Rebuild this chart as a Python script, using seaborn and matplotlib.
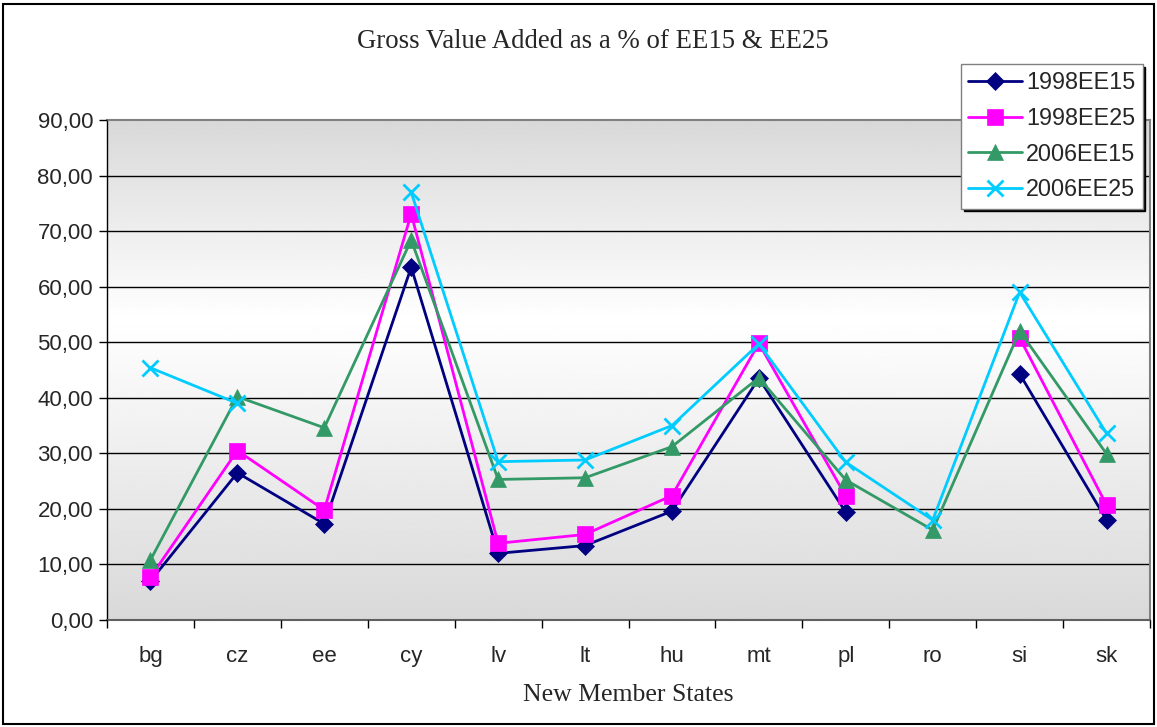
import numpy as np
import pandas as pd
import matplotlib
matplotlib.use("Agg")
import matplotlib.pyplot as plt
from matplotlib.lines import Line2D
from matplotlib.patches import Rectangle
import seaborn as sns

categories = ["bg", "cz", "ee", "cy", "lv", "lt", "hu", "mt", "pl", "ro", "si", "sk"]
s1998EE15 = [7.0, 26.5, 17.3, 63.5, 12.0, 13.4, 19.6, 43.5, 19.4, np.nan, 44.3, 18.0]
s1998EE25 = [7.7, 30.5, 19.8, 73.1, 13.8, 15.4, 22.4, 49.8, 22.3, np.nan, 50.8, 20.7]
s2006EE15 = [10.8, 40.2, 34.6, 68.4, 25.3, 25.6, 31.2, 43.6, 25.2, 16.2, 52.0, 29.9]
s2006EE25 = [45.4, 39.0, np.nan, 77.0, 28.5, 28.8, 35.0, 49.7, 28.4, 18.0, 59.0, 33.6]
series_names = ["1998EE15", "1998EE25", "2006EE15", "2006EE25"]
yticks = [0, 10, 20, 30, 40, 50, 60, 70, 80, 90]

series_vals = [s1998EE15, s1998EE25, s2006EE15, s2006EE25]
styles = [
    dict(color="#000080", marker="D", ms=9),
    dict(color="#FF00FF", marker="s", ms=11),
    dict(color="#339966", marker="^", ms=12),
    dict(color="#00CCFF", marker="x", ms=12),
]

sns.set_theme(style="white")
plt.rcParams["font.family"] = ["Liberation Sans", "DejaVu Sans"]

fig = plt.figure(figsize=(11.57, 7.27), dpi=100)
fig.patch.set_facecolor("white")
fig.patches.append(Rectangle((0.003, 0.004), 0.994, 0.991, transform=fig.transFigure,
                             fill=False, edgecolor="black", linewidth=1.5, zorder=0))
ax = fig.add_axes([107 / 1157, 1 - 620 / 727, 1043 / 1157, 500 / 727])

# gradient background
frac = np.linspace(0, 1, 256)
g = np.interp(frac, [0, 0.6, 1.0], [0.85, 1.0, 0.85])
img = np.repeat(g[:, None], 2, axis=1)
ax.imshow(img, cmap="gray", vmin=0, vmax=1, extent=[0, 1, 0, 1], transform=ax.transAxes,
          origin="lower", aspect="auto", zorder=0)

x_idx = np.arange(len(categories))
for name, vals, st in zip(series_names, series_vals, styles):
    v = np.array(vals, dtype=float)
    seg = np.cumsum(np.isnan(v))
    df = pd.DataFrame({"x": x_idx, "y": v, "seg": seg}).dropna()
    sns.lineplot(data=df, x="x", y="y", units="seg", estimator=None, ax=ax,
                 color=st["color"], linewidth=2, marker=st["marker"], markersize=st["ms"],
                 markeredgecolor=st["color"], markeredgewidth=2 if st["marker"] == "x" else 0.5,
                 zorder=3, legend=False)

ax.set_xlim(-0.5, len(categories) - 0.5)
ax.set_ylim(0, 90)
ax.set_yticks(yticks)
ax.set_yticklabels([f"{t:.2f}".replace(".", ",") for t in yticks], fontsize=16)
ax.set_xticks(x_idx)
ax.set_xticklabels(categories, fontsize=16)
ax.set_xticks(np.arange(-0.5, len(categories), 1), minor=True)
ax.tick_params(axis="x", which="major", length=0, pad=19)
ax.tick_params(axis="x", which="minor", length=6, width=1, color="black", direction="out", bottom=True)
ax.tick_params(axis="y", length=6, width=1, color="black", direction="out", left=True, pad=4)
ax.set_axisbelow(False)
for t in yticks[1:-1]:
    ax.axhline(t, color="black", linewidth=1, zorder=1)
ax.set_xlabel("New Member States", fontsize=18.5, family="Liberation Serif", labelpad=12)
ax.set_ylabel("")
for side in ["top", "right"]:
    ax.spines[side].set_color("#808080")
    ax.spines[side].set_linewidth(1.5)
ax.spines["left"].set_color("black")
ax.spines["left"].set_linewidth(1)
ax.spines["bottom"].set_color("#606060")
ax.spines["bottom"].set_linewidth(1.5)

fig.text(593 / 1157, 1 - 42 / 727, "Gross Value Added as a % of EE15 & EE25", ha="center", va="center",
         fontsize=19.3, family="Liberation Serif")

handles = [Line2D([0], [0], color=st["color"], linewidth=2, marker=st["marker"], markersize=st["ms"],
                  markeredgecolor=st["color"], markeredgewidth=2 if st["marker"] == "x" else 0.5)
           for st in styles]
leg = fig.legend(handles, series_names, loc="upper left", bbox_to_anchor=(961 / 1157, 1 - 64 / 727),
                 frameon=True, fancybox=False, shadow={"color": "black", "alpha": 1},
                 fontsize=16.8, handlelength=2.3, handletextpad=0.2, borderpad=0.3, labelspacing=0.55,
                 borderaxespad=0)
leg.get_frame().set_edgecolor("#808080")
leg.get_frame().set_linewidth(1)

fig.savefig("out.png", dpi=100)
